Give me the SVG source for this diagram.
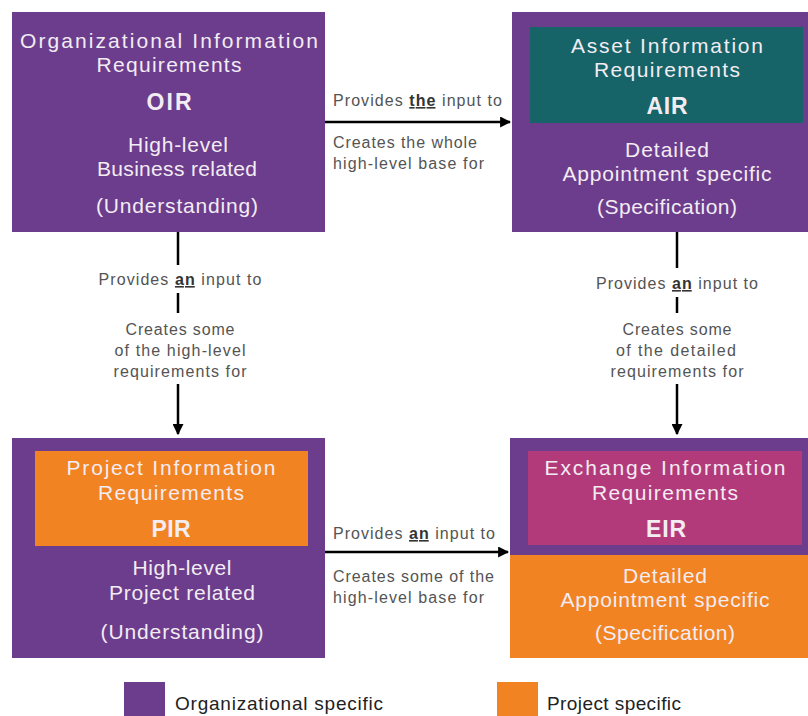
<svg xmlns="http://www.w3.org/2000/svg" width="808" height="716" viewBox="0 0 808 716">
  <style>
    .org { fill: #6c3d8c; }
    .proj { fill: #f28322; }
    .asset { fill: #176468; }
    .exch { fill: #b23a7a; }
    .t { font-family: "Liberation Sans", Arial, sans-serif; fill: #f3ecf3; text-anchor: middle; font-size: 21px; }
    .code { font-weight: bold; font-size: 23px; }
    .lbl { font-family: "Liberation Sans", Arial, sans-serif; fill: #545454; font-size: 16px; }
    .mid { text-anchor: middle; }
    .em { font-weight: bold; fill: #333; text-decoration: underline; }
    .leg { font-family: "Liberation Sans", Arial, sans-serif; fill: #222; font-size: 19px; }
    .wire { stroke: #000; stroke-width: 2.5; fill: none; }
  </style>
  <defs>
    <marker id="head" viewBox="0 0 10 10" refX="9" refY="5" markerWidth="4.4" markerHeight="4.4" orient="auto" markerUnits="strokeWidth">
      <path d="M0,0 L10,5 L0,10 z" fill="#000"/>
    </marker>
  </defs>

  <rect width="808" height="716" fill="#fff"/>

  <!-- Organizational Information Requirements -->
  <g id="oir">
    <rect class="org" x="12" y="12" width="313" height="220"/>
    <text class="t" x="169" y="48" textLength="298" lengthAdjust="spacing">Organizational Information</text>
    <text class="t" x="169" y="72" textLength="145" lengthAdjust="spacing">Requirements</text>
    <text class="t code" x="169" y="110" textLength="45" lengthAdjust="spacing">OIR</text>
    <text class="t" x="178" y="152" textLength="100" lengthAdjust="spacing">High-level</text>
    <text class="t" x="177" y="176" textLength="160" lengthAdjust="spacing">Business related</text>
    <text class="t" x="177" y="213" textLength="162" lengthAdjust="spacing">(Understanding)</text>
  </g>

  <!-- Asset Information Requirements -->
  <g id="air">
    <rect class="org" x="512" y="12" width="296" height="220"/>
    <rect class="asset" x="530" y="27" width="273" height="96"/>
    <text class="t" x="667" y="53" textLength="192" lengthAdjust="spacing">Asset Information</text>
    <text class="t" x="667" y="77" textLength="146" lengthAdjust="spacing">Requirements</text>
    <text class="t code" x="667" y="114" textLength="41" lengthAdjust="spacing">AIR</text>
    <text class="t" x="667" y="157" textLength="84" lengthAdjust="spacing">Detailed</text>
    <text class="t" x="667" y="181" textLength="209" lengthAdjust="spacing">Appointment specific</text>
    <text class="t" x="667" y="214" textLength="140" lengthAdjust="spacing">(Specification)</text>
  </g>

  <!-- Project Information Requirements -->
  <g id="pir">
    <rect class="org" x="12" y="438" width="313" height="220"/>
    <rect class="proj" x="35" y="451" width="273" height="95"/>
    <text class="t" x="171" y="475" textLength="209" lengthAdjust="spacing">Project Information</text>
    <text class="t" x="171" y="500" textLength="146" lengthAdjust="spacing">Requirements</text>
    <text class="t code" x="171" y="537" textLength="39" lengthAdjust="spacing">PIR</text>
    <text class="t" x="182" y="575" textLength="99" lengthAdjust="spacing">High-level</text>
    <text class="t" x="182" y="600" textLength="146" lengthAdjust="spacing">Project related</text>
    <text class="t" x="182" y="639" textLength="163" lengthAdjust="spacing">(Understanding)</text>
  </g>

  <!-- Exchange Information Requirements -->
  <g id="eir">
    <rect class="org" x="510" y="438" width="298" height="118"/>
    <rect class="exch" x="528" y="451" width="274" height="94"/>
    <rect class="proj" x="510" y="555" width="298" height="103"/>
    <text class="t" x="665" y="475" textLength="241" lengthAdjust="spacing">Exchange Information</text>
    <text class="t" x="665" y="500" textLength="146" lengthAdjust="spacing">Requirements</text>
    <text class="t code" x="666" y="537" textLength="40" lengthAdjust="spacing">EIR</text>
    <text class="t" x="665" y="583" textLength="84" lengthAdjust="spacing">Detailed</text>
    <text class="t" x="665" y="607" textLength="209" lengthAdjust="spacing">Appointment specific</text>
    <text class="t" x="665" y="640" textLength="140" lengthAdjust="spacing">(Specification)</text>
  </g>

  <!-- Connectors and their labels -->
  <g id="connectors">
    <line class="wire" x1="325" y1="122" x2="510" y2="122" marker-end="url(#head)"/>
    <text class="lbl" x="333" y="106" textLength="169" lengthAdjust="spacing">Provides <tspan class="em">the</tspan> input to</text>
    <text class="lbl" x="333" y="148" textLength="144" lengthAdjust="spacing">Creates the whole</text>
    <text class="lbl" x="333" y="169" textLength="151" lengthAdjust="spacing">high-level base for</text>

    <line class="wire" x1="325" y1="552" x2="508" y2="552" marker-end="url(#head)"/>
    <text class="lbl" x="333" y="539" textLength="162" lengthAdjust="spacing">Provides <tspan class="em">an</tspan> input to</text>
    <text class="lbl" x="333" y="582" textLength="161" lengthAdjust="spacing">Creates some of the</text>
    <text class="lbl" x="333" y="603" textLength="151" lengthAdjust="spacing">high-level base for</text>

    <line class="wire" x1="178" y1="232" x2="178" y2="265"/>
    <text class="lbl mid" x="180" y="285" textLength="163" lengthAdjust="spacing">Provides <tspan class="em">an</tspan> input to</text>
    <line class="wire" x1="178" y1="293" x2="178" y2="313"/>
    <text class="lbl mid" x="180" y="335" textLength="109" lengthAdjust="spacing">Creates some</text>
    <text class="lbl mid" x="180" y="356" textLength="131" lengthAdjust="spacing">of the high-level</text>
    <text class="lbl mid" x="180" y="377" textLength="133" lengthAdjust="spacing">requirements for</text>
    <line class="wire" x1="178" y1="384" x2="178" y2="434" marker-end="url(#head)"/>

    <line class="wire" x1="677" y1="232" x2="677" y2="268"/>
    <text class="lbl mid" x="677" y="289" textLength="162" lengthAdjust="spacing">Provides <tspan class="em">an</tspan> input to</text>
    <line class="wire" x1="677" y1="297" x2="677" y2="313"/>
    <text class="lbl mid" x="677" y="335" textLength="109" lengthAdjust="spacing">Creates some</text>
    <text class="lbl mid" x="676" y="356" textLength="120" lengthAdjust="spacing">of the detailed</text>
    <text class="lbl mid" x="677" y="377" textLength="133" lengthAdjust="spacing">requirements for</text>
    <line class="wire" x1="677" y1="384" x2="677" y2="434" marker-end="url(#head)"/>
  </g>

  <!-- Legend -->
  <g id="legend">
    <rect class="org" x="124" y="682" width="41" height="34"/>
    <text class="leg" x="175" y="710" textLength="208" lengthAdjust="spacing">Organizational specific</text>
    <rect class="proj" x="497" y="682" width="41" height="34"/>
    <text class="leg" x="547" y="710" textLength="134" lengthAdjust="spacing">Project specific</text>
  </g>
</svg>
